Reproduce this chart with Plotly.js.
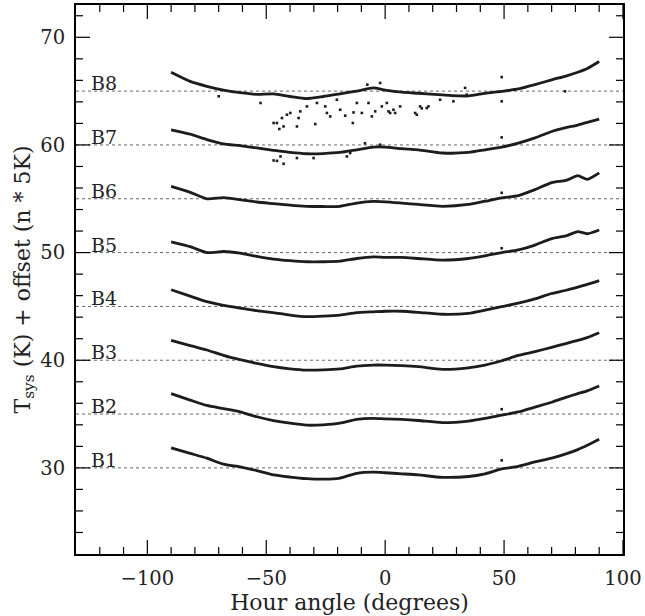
<!DOCTYPE html>
<html>
<head>
<meta charset="utf-8">
<script src="https://cdn.plot.ly/plotly-3.0.1.min.js"></script>
<style>html,body{margin:0;padding:0;background:#fff;}#chart{width:645px;height:616px;}</style>
</head>
<body>
<div id="chart"></div>
<script>
// Hour angle grid (degrees)
const hourAngle = [-90,-82,-75,-68,-61,-54,-47,-40,-33,-26,-19,-12,-5,0,7,14,24,35,42,49,56,63,70,76,81,85,90];

// Tsys + offset for each band (K)
const B1 = [31.85,31.35,30.9,30.35,30.1,29.75,29.35,29.15,29.0,28.95,29.05,29.5,29.6,29.55,29.45,29.35,29.12,29.2,29.45,29.9,30.15,30.55,30.9,31.3,31.7,32.1,32.65];
const B2 = [36.9,36.3,35.8,35.5,35.2,34.75,34.4,34.15,33.97,34.0,34.15,34.5,34.6,34.55,34.5,34.4,34.2,34.35,34.6,34.9,35.2,35.65,36.1,36.55,36.9,37.15,37.6];
const B3 = [41.85,41.35,40.95,40.45,40.05,39.7,39.4,39.2,39.08,39.1,39.2,39.45,39.55,39.55,39.5,39.4,39.15,39.3,39.55,39.95,40.45,40.8,41.2,41.55,41.85,42.1,42.55];
const B4 = [46.55,45.95,45.45,45.1,44.85,44.6,44.42,44.2,44.05,44.1,44.2,44.42,44.5,44.55,44.55,44.45,44.27,44.36,44.65,44.98,45.3,45.7,46.2,46.5,46.8,47.05,47.4];
const B5 = [51.0,50.55,50.0,50.1,49.95,49.65,49.4,49.25,49.15,49.15,49.2,49.45,49.6,49.55,49.55,49.45,49.3,49.45,49.7,50.0,50.25,50.7,51.3,51.55,51.95,51.75,52.1];
const B6 = [56.15,55.6,55.0,55.1,54.92,54.7,54.55,54.4,54.3,54.28,54.3,54.6,54.75,54.72,54.6,54.47,54.3,54.47,54.77,55.08,55.3,55.85,56.5,56.7,57.15,56.8,57.4];
const B7 = [61.4,61.0,60.5,60.1,59.93,59.72,59.5,59.3,59.18,59.2,59.3,59.55,59.8,59.8,59.65,59.55,59.25,59.3,59.55,59.8,60.17,60.65,61.25,61.6,61.85,62.1,62.4];
const B8 = [66.75,65.9,65.45,65.1,64.85,64.7,64.75,64.5,64.3,64.5,64.75,65.0,65.3,65.1,64.9,64.8,64.65,64.55,64.8,64.98,65.2,65.6,66.05,66.4,66.75,67.1,67.75];

const bandNames = ["B1","B2","B3","B4","B5","B6","B7","B8"];
const bandOffsets = [30,35,40,45,50,55,60,65];

// Stray samples (outliers)
const strayX = [-46.9,-45.5,-44.5,-42.7,-43.4,-41.3,-39.9,-37.1,-36.4,-35.7,-32.9,-29.4,-28.7,-25.2,-24.5,-23.1,-20.3,-18.9,-16.8,-13.6,-13.3,-11.9,-9.8,-7.0,-5.6,-4.2,-1.4,0.7,2.1,3.5,6.3,12.6,14.7,17.5,23.1,28.7,34.3,1.4,4.2,13.3,15.4,18.2,-52.4,-70,-2.1,-7.5,33.6,49,75.6,
  -46.9,-45.5,-42.7,-44,-37.1,-30.1,-16.1,-14.7,-2.1,-8.5,
  49,49,49,49,49,49];
const strayY = [62.04,62.04,61.48,61.72,62.5,62.81,62.97,61.72,62.5,63.12,63.58,61.94,63.9,63.58,62.97,62.65,64.2,63.27,62.72,62.04,63.02,63.9,62.97,63.9,62.65,63.12,63.58,63.9,62.97,63.27,63.58,62.97,63.58,63.43,64.2,64.05,64.67,63.12,62.97,62.81,63.4,63.58,63.9,64.52,65.76,65.6,65.3,66.3,64.98,
  58.56,58.52,58.25,58.93,58.78,58.78,58.93,59.25,60.02,60.16,
  30.7,35.45,50.4,55.55,60.7,64.05];

// Axis ticks
const xMajorTicks = [-100, -50, 0, 50, 100];
const xMinorTicks = [-120,-110,-90,-80,-70,-60,-40,-30,-20,-10,10,20,30,40,60,70,80,90];
const yMajorTicks = [30, 40, 50, 60, 70];
const yMinorTicks = [24,26,28,32,34,36,38,42,44,46,48,52,54,56,58,62,64,66,68,72];

const xRange = [-130, 100.01];
const yRange = [22, 73];

const bands = [B1,B2,B3,B4,B5,B6,B7,B8];
const ink = "#1c1c1c";
const traces = bands.map((b, i) => ({
  x: hourAngle, y: b, type: "scatter", mode: "lines",
  line: {color: ink, width: 2.8, shape: "spline", smoothing: 0.6},
  name: bandNames[i], hoverinfo: "skip"
}));
traces.push({
  x: strayX, y: strayY, type: "scatter", mode: "markers",
  marker: {color: ink, size: 2.6, symbol: "square"}, hoverinfo: "skip"
});

const serif = "DejaVu Serif, Liberation Serif, serif";

// dotted band baselines
const shapes = bandOffsets.map(v => ({
  type: "line", xref: "paper", x0: 0, x1: 1, yref: "y", y0: v, y1: v,
  line: {color: "#666", width: 1, dash: "dot"}, layer: "below"
}));

// inside tick marks on all four sides (pixel-sized, positioned by axis values)
const tickLine = {color: "#000", width: 1.2};
function xTicks(vals, len) {
  vals.forEach(v => {
    shapes.push({type: "line", xref: "x", x0: v, x1: v, yref: "paper", ysizemode: "pixel", yanchor: 0, y0: 0, y1: len, line: tickLine});
    shapes.push({type: "line", xref: "x", x0: v, x1: v, yref: "paper", ysizemode: "pixel", yanchor: 1, y0: 0, y1: -len, line: tickLine});
  });
}
function yTicks(vals, len) {
  vals.forEach(v => {
    shapes.push({type: "line", yref: "y", y0: v, y1: v, xref: "paper", xsizemode: "pixel", xanchor: 0, x0: 0, x1: len, line: tickLine});
    shapes.push({type: "line", yref: "y", y0: v, y1: v, xref: "paper", xsizemode: "pixel", xanchor: 1, x0: 0, x1: -len, line: tickLine});
  });
}
xTicks(xMajorTicks, 14);
xTicks(xMinorTicks, 7);
yTicks(yMajorTicks, 14);
yTicks(yMinorTicks, 7);

const annotations = bandOffsets.map((v, i) => ({
  x: -124.5, y: v, xref: "x", yref: "y", text: bandNames[i],
  showarrow: false, xanchor: "left", yanchor: "bottom", yshift: -5,
  font: {family: serif, size: 19, color: "#222"}
}));

const layout = {
  width: 645, height: 616,
  margin: {l: 76, r: 22, t: 5, b: 62},
  showlegend: false,
  xaxis: {
    range: xRange, tickvals: xMajorTicks, showgrid: false, zeroline: false,
    showline: true, linecolor: "#000", linewidth: 2, mirror: true, ticks: "",
    ticklabelstandoff: 6,
    tickfont: {family: serif, size: 19.5, color: "#222"},
    title: {text: "Hour angle (degrees)", font: {family: serif, size: 22, color: "#222"}, standoff: 4}
  },
  yaxis: {
    range: yRange, tickvals: yMajorTicks, showgrid: false, zeroline: false,
    showline: true, linecolor: "#000", linewidth: 2, mirror: true, ticks: "",
    ticklabelstandoff: 5,
    tickfont: {family: serif, size: 19.5, color: "#222"},
    title: {text: "T<sub>sys</sub> (K) + offset (n * 5K)", font: {family: serif, size: 22, color: "#222"}, standoff: 4}
  },
  shapes: shapes,
  annotations: annotations
};

Plotly.newPlot("chart", traces, layout, {staticPlot: true, displayModeBar: false});
</script>
</body>
</html>
